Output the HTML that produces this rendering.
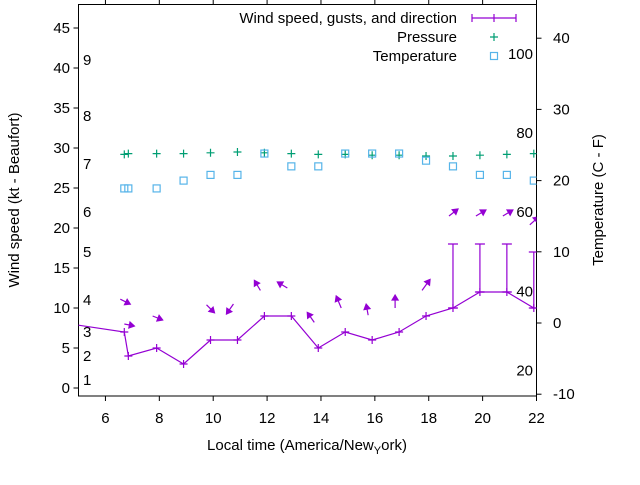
<!DOCTYPE html>
<html><head><meta charset="utf-8"><style>
body{margin:0;background:#fff}
svg{font-family:"Liberation Sans",sans-serif;font-size:15px}
</style></head><body>
<svg id="c" width="640" height="480">
<g id="g"></g>
</svg>
<script>
const hours=[4.3,6.7,6.85,7.9,8.9,9.9,10.9,11.9,12.9,13.9,14.9,15.9,16.9,17.9,18.9,19.9,20.9,21.9];
const speeds=[8.2,7,4,5,3,6,6,9,9,5,7,6,7,9,10,12,12,10];
const gustHours=[18.9,19.9,20.9,21.9];
const gusts=[18,18,18,17];
const obsHours=[6.7,6.85,7.9,8.9,9.9,10.9,11.9,12.9,13.9,14.9,15.9,16.9,17.9,18.9,19.9,20.9,21.9];
const pressure=[29.2,29.3,29.3,29.3,29.4,29.5,29.4,29.3,29.2,29.2,29.1,29.1,29.0,29.0,29.1,29.2,29.3];
const tempC=[18.9,18.9,18.9,20,20.8,20.8,23.8,22,22,23.8,23.8,23.8,22.8,22,20.8,20.8,20];
const arrowHours=[6.7,6.85,7.9,9.9,10.9,11.9,12.9,13.9,14.9,15.9,16.9,17.9,18.9,19.9,20.9,21.9];
const arrowBase=[11.1,8.0,9.0,10.4,10.5,12.2,12.5,8.2,10.0,9.1,10.0,12.2,21.5,21.5,21.5,20.4];
const arrowDx=[10,10,10,8,-7,-6,-10,-7,-5,-2,0,8,9,10,10,9];
const arrowDy=[5,2,4,8,10,-10,-6,-10,-12,-11,-13,-11,-7,-6,-6,-8];
const leftTicks=[0,5,10,15,20,25,30,35,40,45];
const rightTicks=[-10,0,10,20,30,40];
const xTicks=[6,8,10,12,14,16,18,20,22];
const beaufort=[[1,1],[2,4],[3,7],[4,11],[5,17],[6,22],[7,28],[8,34],[9,41]];
const fahr=[20,40,60,80,100];

const X0=78.5,X1=536.5,Y0=4.5,Y1=396;
const xs=h=>X0+(h-5)*(X1-X0)/17;
const yl=v=>388-v*8;
const yr=c=>323-c*7.12;
const yF=f=>yr((f-32)*5/9);
const g=document.getElementById('g');
const NS='http://www.w3.org/2000/svg';
function mk(t,a,txt){const e=document.createElementNS(NS,t);for(const k in a)e.setAttribute(k,a[k]);if(txt!==undefined)e.textContent=txt;g.appendChild(e);return e;}
const defs=document.createElementNS(NS,'defs');defs.innerHTML='<clipPath id="cp"><rect x="78.5" y="4.5" width="458" height="391.5"/></clipPath>';g.appendChild(defs);
let e;
e=mk('rect',{x:X0,y:Y0,width:X1-X0,height:Y1-Y0,fill:'none',stroke:'#000'});

leftTicks.forEach(v=>{mk('line',{x1:X0-5,x2:X0,y1:yl(v),y2:yl(v),stroke:'#000'});
 e=mk('text',{x:70,y:yl(v)+5,'text-anchor':'end'},v);});
rightTicks.forEach(v=>{mk('line',{x1:X1,x2:X1+5,y1:yr(v),y2:yr(v),stroke:'#000'});
 e=mk('text',{x:553,y:yr(v)+5},v);});
xTicks.forEach(v=>{mk('line',{x1:xs(v),x2:xs(v),y1:Y1,y2:Y1+5,stroke:'#000'});mk('line',{x1:xs(v),x2:xs(v),y1:Y0-5,y2:Y0,stroke:'#000'});
 e=mk('text',{x:xs(v),y:423,'text-anchor':'middle'},v);});
beaufort.forEach(b=>{e=mk('text',{x:83,y:yl(b[1])+5},b[0]);});
fahr.forEach(f=>{e=mk('text',{x:533,y:yF(f)+5,'text-anchor':'end'},f);});
obsHours.forEach((h,i)=>{const x=xs(h),y=yl(pressure[i]);
 e=mk('path',{d:`M${x-4},${y}h8M${x},${y-4}v8`,stroke:'#009e73','stroke-width':1.2,'clip-path':'url(#cp)'});
 });
obsHours.forEach((h,i)=>{const x=xs(h),y=yr(tempC[i]);
 e=mk('rect',{x:x-3.5,y:y-3.5,width:7,height:7,fill:'none',stroke:'#56b4e9','stroke-width':1.2,'clip-path':'url(#cp)'});
 });
e=mk('polyline',{points:hours.map((h,i)=>xs(h)+','+yl(speeds[i])).join(' '),fill:'none',stroke:'#9400d3','stroke-width':1.2,'clip-path':'url(#cp)'});

hours.forEach((h,i)=>{const x=xs(h),y=yl(speeds[i]);
 e=mk('path',{d:`M${x-4},${y}h8M${x},${y-4}v8`,stroke:'#9400d3','stroke-width':1.2,'clip-path':'url(#cp)'});
 });
gustHours.forEach((h,i)=>{const x=xs(h),ya=yl(gusts[i]);const s=speeds[hours.indexOf(h)];
 e=mk('path',{d:`M${x},${yl(s)}V${ya}M${x-5},${ya}h10M${x-5},${yl(s)}h10`,stroke:'#9400d3','stroke-width':1.2,'clip-path':'url(#cp)'});
 });
arrowHours.forEach((h,i)=>{const x=xs(h)-4,y=yl(arrowBase[i]);const dx=arrowDx[i],dy=arrowDy[i];
 const x2=x+dx,y2=y+dy;const L=Math.hypot(dx,dy),ux=dx/L,uy=dy/L;
 const bx=x2-ux*5,by=y2-uy*5,px=-uy*3,py=ux*3;
 e=mk('path',{d:`M${x},${y}L${x2},${y2}M${x2},${y2}L${bx+px},${by+py}L${bx-px},${by-py}Z`,stroke:'#9400d3',fill:'#9400d3','stroke-width':1.2,'clip-path':'url(#cp)'});
 });
e=mk('text',{x:457,y:23,'text-anchor':'end'},'Wind speed, gusts, and direction');
mk('path',{d:'M472,18h44M472,14v8M516,14v8M494,14v8',stroke:'#9400d3','stroke-width':1.2});
e=mk('text',{x:457,y:42,'text-anchor':'end'},'Pressure');
mk('path',{d:'M490,37h8M494,33v8',stroke:'#009e73','stroke-width':1.2});
e=mk('text',{x:457,y:61,'text-anchor':'end'},'Temperature');
mk('rect',{x:490.5,y:52.5,width:7,height:7,fill:'none',stroke:'#56b4e9','stroke-width':1.2});
e=mk('text',{x:0,y:0,transform:'translate(19,200) rotate(-90)','text-anchor':'middle'},'Wind speed (kt - Beaufort)');
e=mk('text',{x:0,y:0,transform:'translate(603,200) rotate(-90)','text-anchor':'middle'},'Temperature (C - F)');
e=mk('text',{x:307,y:450,'text-anchor':'middle'});e.innerHTML='Local time (America/New<tspan dy="4" font-size="11">Y</tspan><tspan dy="-4">ork)</tspan>';

</script>
</body></html>
